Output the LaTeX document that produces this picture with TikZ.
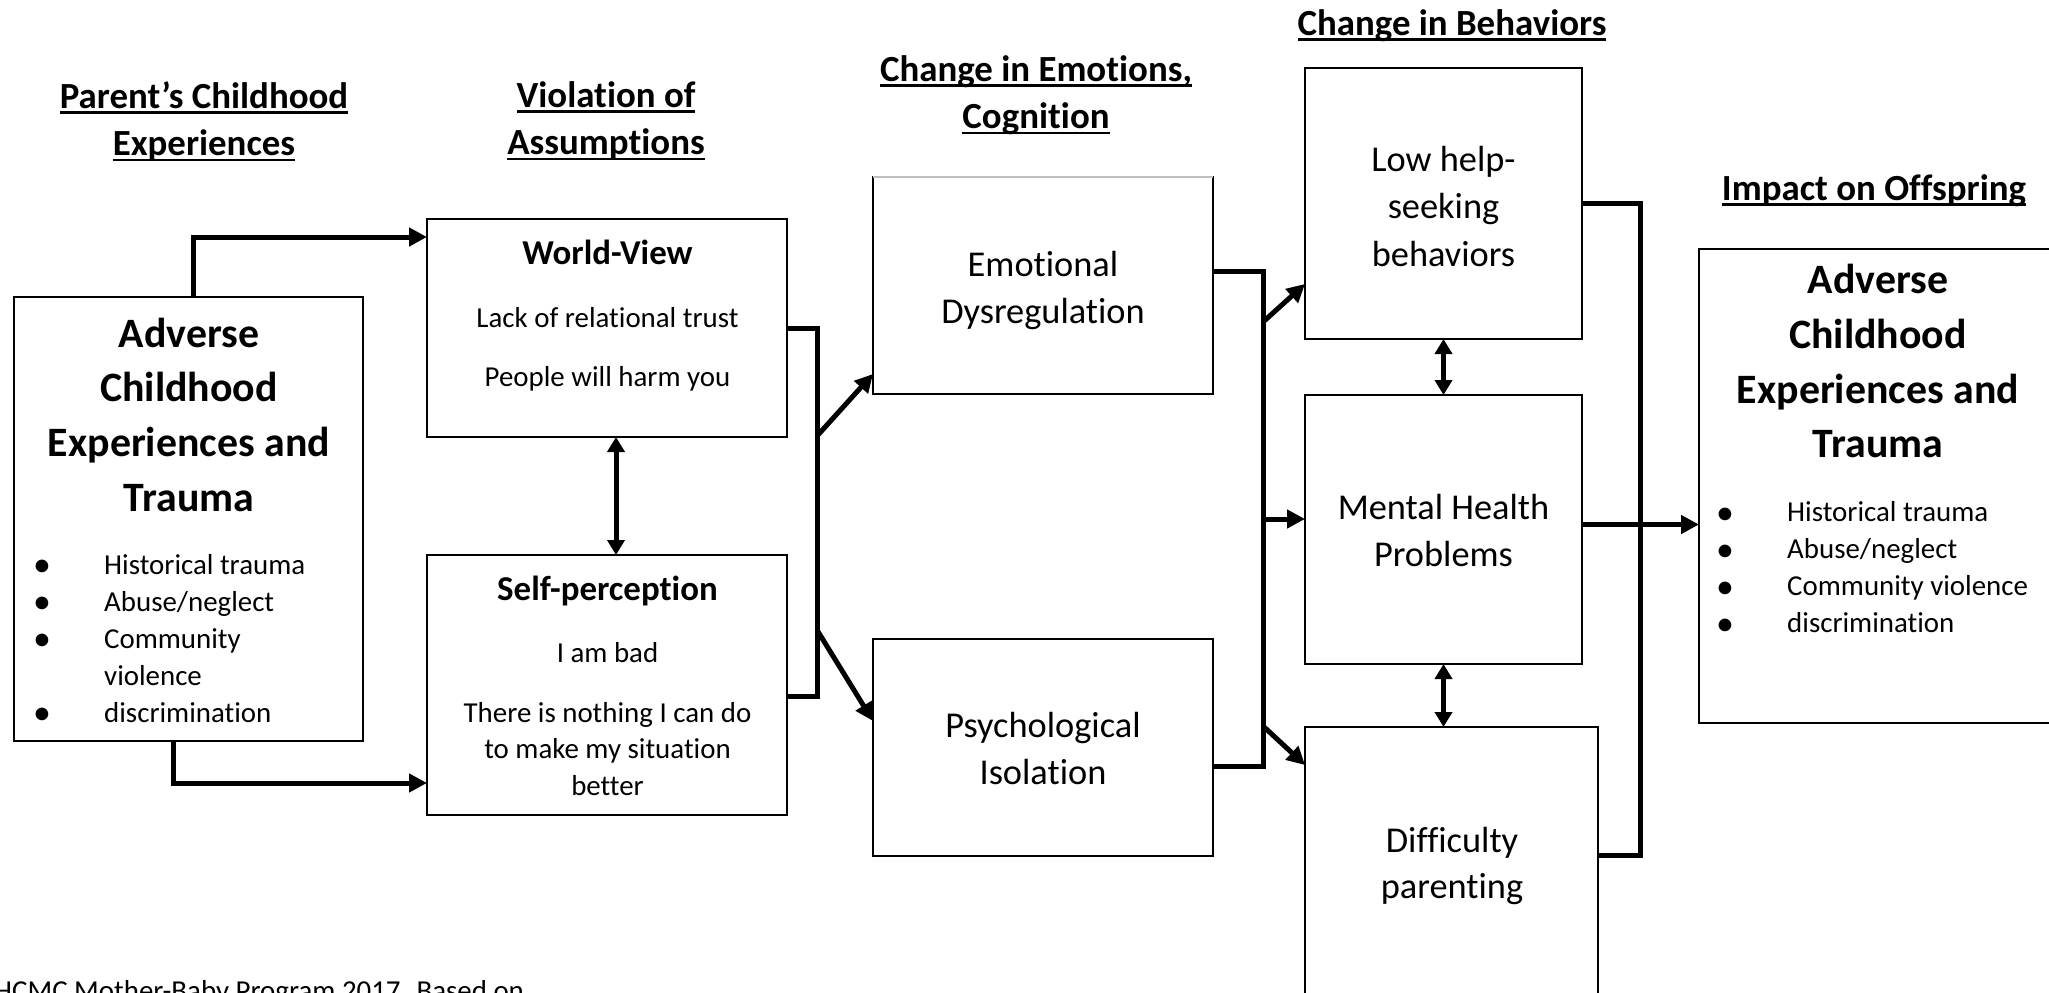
\documentclass[tikz,border=0pt]{standalone}
\usepackage{fontspec}
\setmainfont{Carlito}[Ligatures={NoCommon,NoContextual},RawFeature={-calt}]
\usetikzlibrary{arrows.meta}

% stacked centred lines; the node's base anchor is the first baseline
\newcommand{\stackc}[1]{\begin{tabular}[t]{@{}c@{}}#1\end{tabular}}
% bullet list: bullet column + item column
\newcommand{\bulletlist}[1]{\begin{tabular}[t]{@{}p{71bp}@{}l@{}}#1\end{tabular}}
% large list bullet
\newcommand{\bul}{\smash{\raisebox{-2.5bp}{\fontsize{36}{37}\selectfont •}}}
% heading underline at a fixed depth below the baseline
\newsavebox{\ulinebox}
\newcommand{\headrule}[1]{\sbox{\ulinebox}{#1}\rlap{\rule[-5.5bp]{\wd\ulinebox}{2.6bp}}\usebox{\ulinebox}}

\begin{document}
\begin{tikzpicture}[x=1bp,y=-1bp,
  box/.style={draw=black, line width=1.3bp, inner sep=0pt, outer sep=0pt, anchor=north west},
  head/.style={anchor=base, inner sep=0pt, font=\fontsize{37}{48}\selectfont\bfseries},
  bigtitle/.style={anchor=base, inner sep=0pt, font=\fontsize{42}{55}\selectfont\bfseries},
  subtitle/.style={anchor=base, inner sep=0pt, font=\fontsize{35}{46}\selectfont\bfseries},
  label/.style={anchor=base, inner sep=0pt, font=\fontsize{36.5}{47.5}\selectfont},
  body/.style={anchor=base, inner sep=0pt, font=\fontsize{29}{37}\selectfont},
  items/.style={anchor=base west, inner sep=0pt, font=\fontsize{29}{37.2}\selectfont},
  link/.style={line width=5bp, line join=miter, -{Triangle[length=18bp,width=18bp]}},
  bracket/.style={line width=5bp, line join=miter},
  twoway/.style={line width=5bp, {Triangle[length=15bp,width=17bp]}-{Triangle[length=15bp,width=17bp]}}
]
\useasboundingbox (0,0) rectangle (2049,993);
\clip (0,0) rectangle (2049,993);

% column headings
\node[head] (h1) at (204,108) {\stackc{\headrule{Parent’s Childhood}\\\headrule{Experiences}}};
\node[head] (h2) at (606,107) {\stackc{\headrule{Violation of}\\\headrule{Assumptions}}};
\node[head] (h3) at (1036,81) {\stackc{\headrule{Change in Emotions,}\\\headrule{Cognition}}};
\node[head] (h4) at (1452,35) {\headrule{Change in Behaviors}};
\node[head] (h5) at (1874,200) {\headrule{Impact on Offspring}};

% boxes
\node[box, minimum width=349bp, minimum height=444bp] (lb) at (14,297) {};
\node[box, minimum width=360bp, minimum height=218bp] (wv) at (427,219) {};
\node[box, minimum width=360bp, minimum height=260bp] (sp) at (427,555) {};
\node[box, minimum width=340bp, minimum height=217bp] (ed) at (873,177) {};
\node[box, minimum width=340bp, minimum height=217bp] (pi) at (873,639) {};
\node[box, minimum width=277bp, minimum height=271bp] (lh) at (1305,68) {};
\node[box, minimum width=277bp, minimum height=269bp] (mh) at (1305,395) {};
\node[box, minimum width=293bp, minimum height=320bp] (dp) at (1305,727) {};
\node[box, minimum width=420bp, minimum height=474bp] (rb) at (1699,249) {};
\draw[gray!50, line width=1.3bp] (ed.north west) -- (ed.north east);

% parent's experiences
\node[bigtitle] (lbt) at (189,347) {\stackc{Adverse\\Childhood\\Experiences and\\Trauma}};
\node[items] (lbl) at (33,574) {\bulletlist{\bul&Historical trauma\\\bul&Abuse/neglect\\\bul&Community\\&violence\\\bul&discrimination}};

% world-view
\node[subtitle] (wvt) at (607.5,264) {World-View};
\node[body] (wv1) at (607.5,327) {Lack of relational trust};
\node[body] (wv2) at (607.5,386) {People will harm you};

% self-perception
\node[subtitle] (spt) at (607.5,600) {Self-perception};
\node[body] (sp1) at (607.5,662) {I am bad};
\node[body] (sp2) at (607.5,722) {\stackc{There is nothing I can do\\to make my situation\\better}};

% emotions, cognition
\node[label] (edt) at (1043,276) {\stackc{Emotional\\Dysregulation}};
\node[label] (pit) at (1043,737) {\stackc{Psychological\\Isolation}};

% behaviours
\node[label, font=\fontsize{36.5}{48}\selectfont] (lht) at (1443.5,171) {\stackc{Low help-\\seeking\\behaviors}};
\node[label, font=\fontsize{36.5}{48}\selectfont] (mht) at (1443.5,519) {\stackc{Mental Health\\Problems}};
\node[label, font=\fontsize{36.5}{47}\selectfont] (dpt) at (1452,852) {\stackc{Difficulty\\parenting}};

% offspring
\node[bigtitle] (rbt) at (1878,293.5) {\stackc{Adverse\\Childhood\\Experiences and\\Trauma}};
\node[items] (rbl) at (1716,521.5) {\bulletlist{\bul&Historical trauma\\\bul&Abuse/neglect\\\bul&Community violence\\\bul&discrimination}};

% source note
\node[items] (src) at (-6,1000) {HCMC Mother-Baby Program 2017. Based on};

% connectors: parent's experiences to assumptions
\draw[link] ([xshift=4.5bp]lb.north) |- ([yshift=-18bp]wv.north west);
\draw[link] ([xshift=-15.5bp]lb.south) |- ([yshift=32bp]sp.south west);
\draw[twoway] ([xshift=9bp]wv.south) -- ([xshift=9bp]sp.north);

% assumptions to emotions
\draw[bracket] (wv.east) -- ++(30,0) coordinate (s1) |- ([yshift=-11bp]sp.east);
\coordinate (s1a) at (817,436);
\coordinate (s1b) at (817,630);
\draw[link] (s1a) -- ([yshift=20bp]ed.south west);
\draw[link] (s1b) -- ([yshift=26.5bp]pi.west);

% emotions to behaviours
\draw[bracket] ([yshift=14.5bp]ed.east) -- ++(50,0) coordinate (s2) |- ([yshift=-18.5bp]pi.east);
\coordinate (s2a) at (1263,322);
\coordinate (s2b) at (1263,519);
\coordinate (s2c) at (1263,726);
\draw[link] (s2a) -- ([yshift=55bp]lh.south west);
\draw[link] (s2b) -- (s2b -| mh.west);
\draw[link] (s2c) -- ([yshift=-38bp]dp.north west);
\draw[twoway] (lh.south) -- (mh.north);
\draw[twoway] (mh.south) -- (mh.south |- dp.north);

% behaviours to offspring
\draw[bracket] (lh.east) -- ++(58,0) coordinate (s3) |- ([yshift=-128bp]dp.north east);
\draw[link] ([yshift=5bp]mh.east) -- ([yshift=5bp]mh.east -| rb.west);
\end{tikzpicture}
\end{document}
